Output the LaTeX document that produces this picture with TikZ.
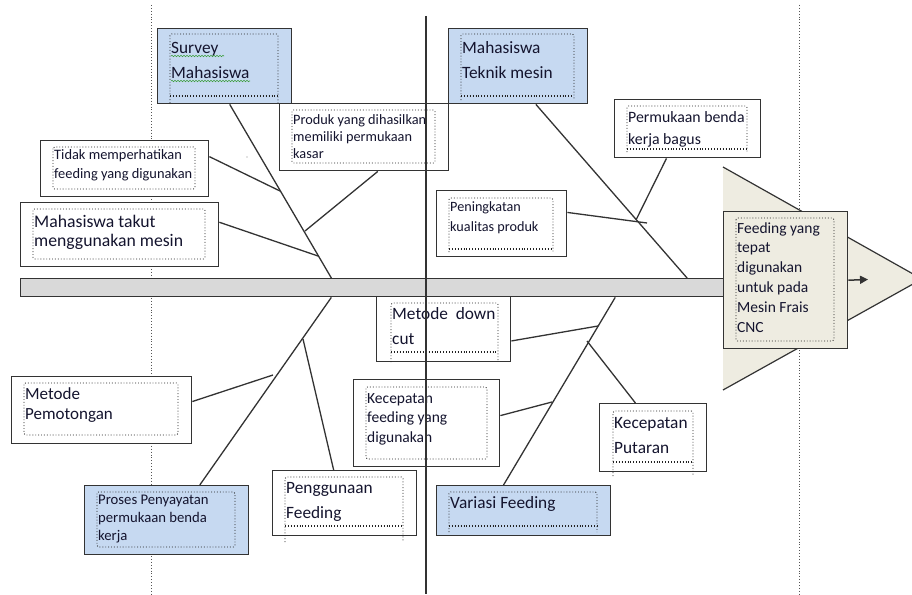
\documentclass[tikz,border=0pt]{standalone}
\usepackage{fontspec}
\setmainfont{Carlito}
\usetikzlibrary{calc,arrows.meta,decorations.pathmorphing}
\definecolor{blueF}{HTML}{C6D9F1}
\definecolor{tanF}{HTML}{EEECE1}
\definecolor{spineF}{HTML}{D9D9D9}
\definecolor{lineC}{HTML}{333333}
\definecolor{txtC}{HTML}{14142E}
\definecolor{dotC}{HTML}{222222}
\definecolor{guideC}{HTML}{555555}
\definecolor{spellC}{HTML}{3C9E3C}
\newcommand\inrect[4]{\draw[inbox] (#1,#2) rectangle (#3,#4);}
\newcommand\inrectd[5]{\draw[inbox] (#1,#5) -- (#1,#2) -- (#3,#2) -- (#3,#5);
  \draw[inbox] (#1,#4) -- (#3,#4); \draw[inbox] (#1,#4+1.8) -- (#3,#4+1.8);}
\begin{document}
\begin{tikzpicture}[x=1pt,y=-1pt,
  cbox/.style={draw=lineC, line width=1.4pt, fill=white, inner sep=0pt, anchor=north west},
  bluebox/.style={fill=blueF},
  tanbox/.style={fill=tanF},
  inbox/.style={draw=dotC, line width=0.9pt, dotted, rounded corners=1.5pt},
  bone/.style={draw=lineC, line width=1.3pt},
  txt/.style={text=txtC, align=left, anchor=base west, inner sep=0pt},
  big/.style={txt, font=\fontsize{17.3}{25}\selectfont},
  small/.style={txt, font=\fontsize{14.3}{18}\selectfont},
  vline/.style={draw=guideC, line width=0.9pt, dotted}
]
\useasboundingbox (0,0) rectangle (912,594);
% dotted guide lines
\coordinate (dl1) at (151,5); \coordinate (dl2) at (151,594);
\coordinate (dr1) at (799,5); \coordinate (dr2) at (799,594);
\draw[vline] (dl1) -- (dl2);
\draw[vline] (dr1) -- (dr2);

% head triangle
\coordinate (h1) at (723,167); \coordinate (h2) at (922,279); \coordinate (h3) at (723,390);
\fill[tanF] (h1) -- (h2) -- (h3) -- cycle;
\draw[lineC, line width=1.2pt] (h1) -- (h2) -- (h3);

% spine
\node[cbox, fill=spineF, minimum width=703pt, minimum height=18pt] (spine) at (20,278) {};

% boxes
\node[cbox, bluebox, minimum width=134pt, minimum height=75pt] (survey) at (157,28) {};
\node[cbox, bluebox, minimum width=139pt, minimum height=75pt] (teknik) at (448,28) {};
\node[cbox, minimum width=169pt, minimum height=67pt] (produk) at (279,103) {};
\node[cbox, minimum width=168pt, minimum height=56pt] (tidak) at (40,140) {};
\node[cbox, minimum width=198pt, minimum height=64pt] (takut) at (20,202) {};
\node[cbox, minimum width=146pt, minimum height=58pt] (permukaan) at (614,99) {};
\node[cbox, minimum width=130pt, minimum height=66pt] (peningkatan) at (436,190) {};
\node[cbox, tanbox, minimum width=124pt, minimum height=137pt] (headbox) at (723,211) {};
\node[cbox, minimum width=134pt, minimum height=65pt] (downcut) at (376,296) {};
\node[cbox, minimum width=146pt, minimum height=87pt] (kecfeed) at (353,379) {};
\node[cbox, minimum width=107pt, minimum height=68pt] (putaran) at (599,403) {};
\node[cbox, bluebox, minimum width=174pt, minimum height=50pt] (variasi) at (436,485) {};
\node[cbox, minimum width=180pt, minimum height=67pt] (pemotongan) at (11,376) {};
\node[cbox, bluebox, minimum width=164pt, minimum height=69pt] (proses) at (84,485) {};
\node[cbox, minimum width=144pt, minimum height=65pt] (penggunaan) at (272,470) {};

% junction coordinates
\coordinate (jtidak) at (280,191);
\coordinate (jtakut) at (318,256);
\coordinate (jproduk) at (305,231);
\coordinate (jperm) at (636,220);
\coordinate (jpen) at (647,223);
\coordinate (jpemo) at (273,375);
\coordinate (jpeng) at (303,339);
\coordinate (jdown) at (598,326);
\coordinate (jkec) at (552,402);
\coordinate (jput) at (587,341);

% main bones
\draw[bone] ($(survey.south west)!0.537!(survey.south east)$) -- ($(spine.north west)!0.442!(spine.north east)$);
\draw[bone] ($(teknik.south west)!0.626!(teknik.south east)$) -- ($(spine.north west)!0.947!(spine.north east)$);
\draw[bone] ($(spine.south west)!0.442!(spine.south east)$) -- ($(proses.north west)!0.70!(proses.north east)$);
\draw[bone] ($(spine.south west)!0.845!(spine.south east)$) -- ($(variasi.north west)!0.385!(variasi.north east)$);
% sub bones
\draw[bone] ($(tidak.north east)!0.29!(tidak.south east)$) -- (jtidak);
\draw[bone] ($(takut.north east)!0.31!(takut.south east)$) -- (jtakut);
\draw[bone] ($(produk.south west)!0.58!(produk.south east)$) -- (jproduk);
\draw[bone] ($(permukaan.south west)!0.356!(permukaan.south east)$) -- (jperm);
\draw[bone] ($(peningkatan.north east)!0.333!(peningkatan.south east)$) -- (jpen);
\draw[bone] ($(pemotongan.north east)!0.373!(pemotongan.south east)$) -- (jpemo);
\draw[bone] ($(penggunaan.north west)!0.424!(penggunaan.north east)$) -- (jpeng);
\draw[bone] ($(downcut.north east)!0.677!(downcut.south east)$) -- (jdown);
\draw[bone] ($(kecfeed.north east)!0.414!(kecfeed.south east)$) -- (jkec);
\draw[bone] ($(putaran.north west)!0.336!(putaran.north east)$) -- (jput);

% inner dotted frames
\inrectd{170}{34}{278}{95}{103}
\inrectd{461}{34}{574}{95}{100}
\inrect{292}{110}{435}{163}
\inrect{53}{147}{195}{189}
\inrect{33}{209}{205}{259}
\inrectd{627}{106}{747}{148}{152}
\inrectd{449}{198}{553}{248}{252}
\inrect{736}{218}{834}{341}
\inrectd{391}{303}{498}{351}{362}
\inrect{366}{387}{487}{459}
\inrectd{613}{411}{693}{461}{476}
\inrectd{449}{492}{597}{525}{532}
\inrect{24}{383}{178}{435}
\inrect{97}{492}{235}{547}
\inrectd{285}{477}{403}{525}{542}

% texts (anchor = baseline of last line)
\node[big] (tsurvey) at (171,78) {Survey\\Mahasiswa};
\draw[spellC, line width=0.6pt, decorate, decoration={snake, amplitude=0.7pt, segment length=3pt}] (171,56) -- (224,56);
\draw[spellC, line width=0.6pt, decorate, decoration={snake, amplitude=0.7pt, segment length=3pt}] (171,81) -- (250,81);
\node[big] (tteknik) at (462,78) {Mahasiswa\\Teknik mesin};
\node[small, font=\fontsize{14.3}{17}\selectfont] (tproduk) at (293,158) {Produk yang dihasilkan\\memiliki permukaan\\kasar};
\node[small, font=\fontsize{14.4}{19}\selectfont] (ttidak) at (54,178) {Tidak memperhatikan\\feeding yang digunakan};
\node[big, font=\fontsize{17.7}{19.5}\selectfont] (ttakut) at (34,246.5) {Mahasiswa takut\\menggunakan mesin};
\node[small, font=\fontsize{15.8}{22}\selectfont] (tperm) at (628,144) {Permukaan benda\\kerja bagus};
\node[small, font=\fontsize{14.2}{20}\selectfont] (tpen) at (450,231) {Peningkatan\\kualitas produk};
\node[small, font=\fontsize{15.5}{19.8}\selectfont] (thead) at (737,332) {Feeding yang\\tepat\\digunakan\\untuk pada\\Mesin Frais\\CNC};
\node[big] (tdown) at (392,344) {Metode\ \ down\\cut};
\node[small, font=\fontsize{15.5}{19.5}\selectfont] (tkec) at (367,442) {Kecepatan\\feeding yang\\digunakan};
\node[big] (tput) at (614,453) {Kecepatan\\Putaran};
\node[big] (tvar) at (450,508) {Variasi Feeding};
\node[big, font=\fontsize{17}{20}\selectfont] (tpemo) at (25,419) {Metode\\Pemotongan};
\node[small, font=\fontsize{14.7}{18}\selectfont] (tproses) at (98,540) {Proses Penyayatan\\permukaan benda\\kerja};
\node[big] (tpeng) at (286,518) {Penggunaan\\Feeding};

% stray dot
\fill[lineC!60] (247,157) circle (0.7pt);

% solid vertical line
\coordinate (sv1) at (426,16); \coordinate (sv2) at (426,594);
\draw[lineC, line width=1.5pt] (sv1) -- (sv2);

% output arrow
\coordinate (atip) at (868,279.5);
\draw[lineC, line width=1.5pt, -{Triangle[length=8pt,width=8pt]}] (headbox.east) -- (atip);
\end{tikzpicture}
\end{document}
